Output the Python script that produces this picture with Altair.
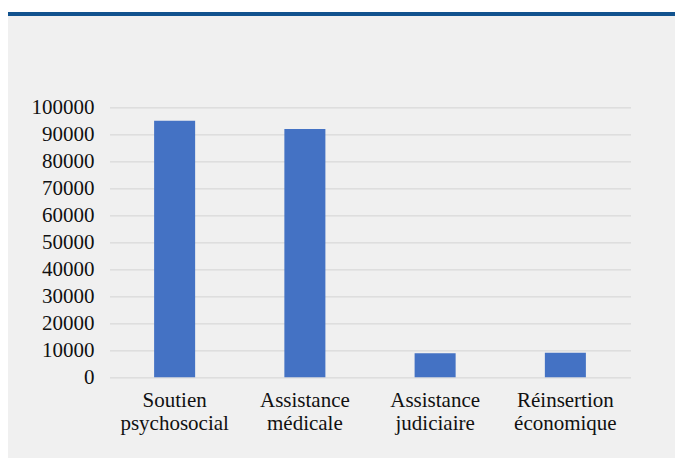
import altair as alt
import pandas as pd

categories = ["Soutien psychosocial", "Assistance médicale", "Assistance judiciaire", "Réinsertion économique"]
values = [95000, 92000, 8900, 9100]
y_ticks = [0, 10000, 20000, 30000, 40000, 50000, 60000, 70000, 80000, 90000, 100000]

df = pd.DataFrame({"categorie": categories, "valeur": values})

FONT = "Liberation Serif, Times New Roman, serif"
W, H = 521, 270
PAD = {"left": 101.5, "top": 99.3, "right": 44.5, "bottom": 80.7}

one = alt.Data(values=[{}])

top_white = alt.Chart(one).mark_rect(color="white").encode(
    x=alt.value(-PAD["left"]), x2=alt.value(W + PAD["right"]),
    y=alt.value(-PAD["top"]), y2=alt.value(-PAD["top"] + 4),
)
blue_line = alt.Chart(one).mark_rect(color="#11528e").encode(
    x=alt.value(-PAD["left"]), x2=alt.value(W + PAD["right"]),
    y=alt.value(-PAD["top"] + 4), y2=alt.value(-PAD["top"] + 8),
)

bars = alt.Chart(df).mark_bar(color="#4472C4").encode(
    x=alt.X(
        "categorie:N", sort=categories, title=None,
        scale=alt.Scale(paddingInner=0.685, paddingOuter=0.3425),
        axis=alt.Axis(
            labelAngle=0, labelFont=FONT, labelFontSize=21, labelColor="#111111",
            labelExpr="split(datum.label, ' ')", labelLineHeight=23,
            labelPadding=12, ticks=False, tickSize=0, domain=False, grid=False,
        ),
    ),
    y=alt.Y(
        "valeur:Q", title=None,
        scale=alt.Scale(domain=[0, 100000], nice=False),
        axis=alt.Axis(
            values=y_ticks, format="d", labelFont=FONT, labelFontSize=21,
            labelColor="#111111", labelPadding=15.5, ticks=False, tickSize=0,
            domain=False, grid=True, gridColor="#d9d9d9", gridWidth=1.3,
        ),
    ),
)

chart = alt.layer(top_white, blue_line, bars).properties(
    width=W, height=H,
    padding=PAD,
    autosize=alt.AutoSizeParams(type="none"),
    background="#f0f0f0",
).configure_view(stroke=None)

chart.save("out.html", embed_options={"renderer": "svg", "actions": False})
